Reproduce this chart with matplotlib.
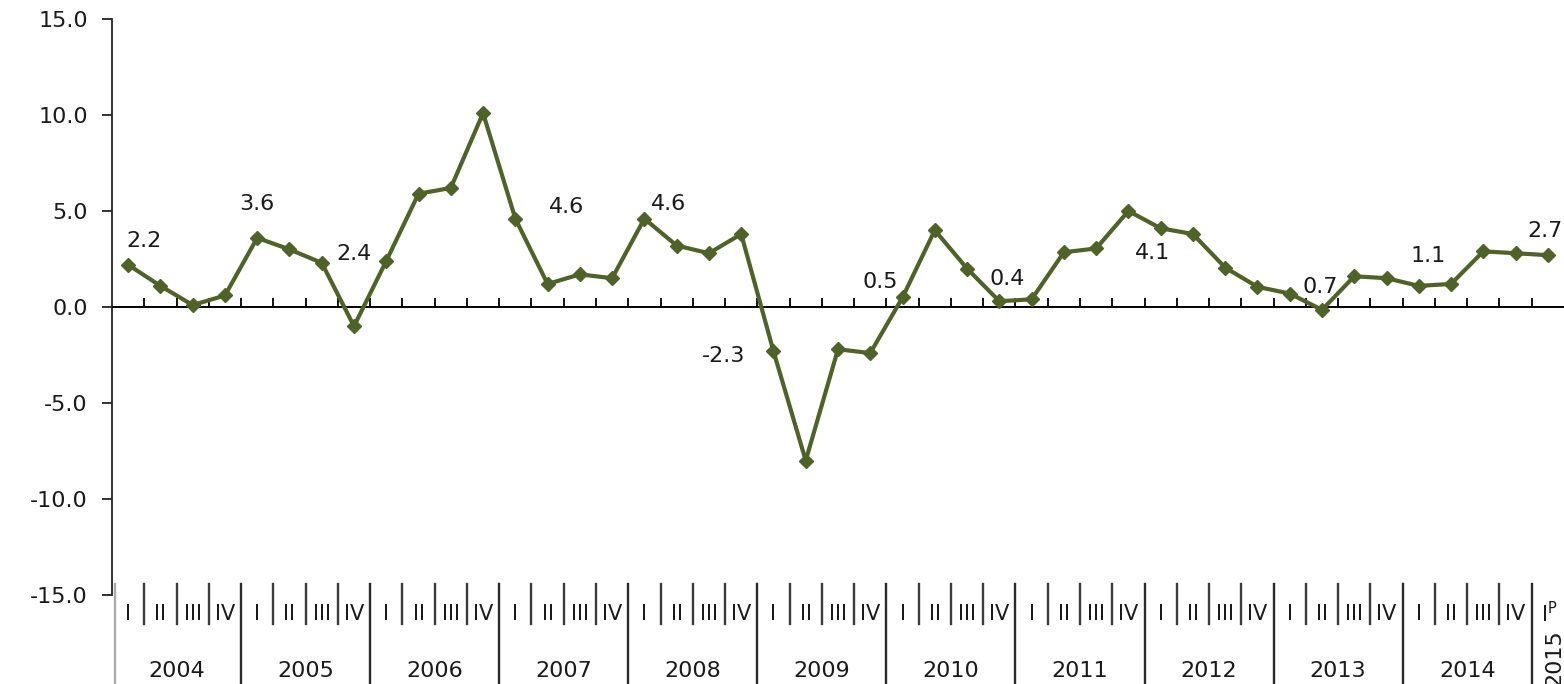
import matplotlib
matplotlib.use("Agg")
import matplotlib.pyplot as plt
import numpy as np

plt.rcParams['font.family'] = ['DejaVu Sans']
plt.rcParams['axes.unicode_minus'] = False

# ---- data ----
years = ['2004', '2005', '2006', '2007', '2008', '2009', '2010',
         '2011', '2012', '2013', '2014']
last_year = '2015'
quarters = ['I', 'II', 'III', 'IV']
last_quarter = r'I$^{\mathregular{P}}$'

values = [2.2, 1.1, 0.1, 0.6,
          3.6, 3.0, 2.3, -1.0,
          2.4, 5.9, 6.2, 10.1,
          4.6, 1.2, 1.7, 1.5,
          4.6, 3.2, 2.8, 3.8,
          -2.3, -8.0, -2.2, -2.4,
          0.5, 4.0, 2.0, 0.3,
          0.4, 2.85, 3.05, 5.0,
          4.1, 3.8, 2.05, 1.05,
          0.7, -0.15, 1.6, 1.5,
          1.1, 1.2, 2.9, 2.8,
          2.7]

# data labels shown for the first quarter of each year
label_idx = [0, 4, 8, 12, 16, 20, 24, 28, 32, 36, 40, 44]
# label placement offsets (x in category units, y in value units)
label_dx = [0.5, 0.0, -1.0, 1.6, 0.75, -1.55, -0.7, -0.75, -0.25, 0.95, 0.3, -0.1]
label_dy = [1.25, 1.75, 0.35, 0.6, 0.75, -0.25, 0.8, 1.05, -1.3, 0.35, 1.55, 1.25]

line_color = '#4F6228'
text_color = '#1a1a1a'
fs = 16

W, H = 1564, 684
fig = plt.figure(figsize=(W / 100, H / 100), dpi=100)
left_px, top_px, bottom_px = 112, 19, 595
ax = fig.add_axes([left_px / W, 1 - bottom_px / H, (W - left_px) / W, (bottom_px - top_px) / H])

x = np.arange(len(values))
ax.plot(x, values, color=line_color, lw=3.0, marker='D', ms=7.5, mfc=line_color,
        mec=line_color, mew=1, zorder=5, clip_on=False)

ax.set_xlim(-0.5, len(values) - 0.5)
ax.set_ylim(-15, 15)
ax.set_yticks(np.arange(-15, 16, 5))
ax.set_yticklabels([f'{v:.1f}' for v in np.arange(-15, 16, 5)], fontsize=fs, color=text_color)
ax.tick_params(axis='y', direction='out', length=7.5, width=1.3, pad=10, colors='#222222',
               labelcolor=text_color)
ax.set_xticks([])
for s in ['top', 'right', 'bottom']:
    ax.spines[s].set_visible(False)
ax.spines['left'].set_color('#222222')
ax.spines['left'].set_linewidth(1.3)

# zero line with small category ticks
ax.axhline(0, color='black', lw=1.4, zorder=3)
bounds = np.arange(0.5, len(values) - 0.5, 1.0)
ax.vlines(bounds, 0, 0.45, color='black', lw=1.3, zorder=3)

# data labels
for i, dx, dy in zip(label_idx, label_dx, label_dy):
    ax.text(x[i] + dx, values[i] + dy, f'{values[i]:.1f}', fontsize=fs, color=text_color,
            ha='center', va='center', clip_on=False, zorder=6)

# multi-level category axis
tr = ax.get_xaxis_transform()
ah = bottom_px - top_px
def fy(py):
    return (bottom_px - py) / ah

sep_top = fy(584)
q_bot = fy(624)
y_bot = fy(684)
for b in bounds:
    if int(b + 0.5) % 4 == 0:
        ax.plot([b, b], [sep_top, y_bot], transform=tr, color='#2a2a2a', lw=1.7, clip_on=False)
    else:
        ax.plot([b, b], [sep_top, q_bot], transform=tr, color='#3a3a3a', lw=1.7, clip_on=False)
ax.plot([-0.42, -0.42], [sep_top, y_bot], transform=tr, color='#aaaaaa', lw=1.7, clip_on=False)

for i in range(len(values) - 1):
    ax.text(x[i], fy(614), quarters[i % 4], transform=tr, fontsize=fs - 1, color=text_color,
            ha='center', va='center', clip_on=False)
ax.text(x[-1] + 0.05, fy(614), last_quarter, transform=tr, fontsize=fs - 1, color=text_color,
        ha='center', va='center', clip_on=False)

for k, yr in enumerate(years):
    ax.text(4 * k + 1.5, fy(671), yr, transform=tr, fontsize=fs, color=text_color,
            ha='center', va='center', clip_on=False)
ax.text(x[-1] + 0.2, fy(658), last_year, transform=tr, fontsize=fs, color=text_color,
        ha='center', va='center', rotation=90, clip_on=False)

fig.savefig('out.png', dpi=100, facecolor='white')
